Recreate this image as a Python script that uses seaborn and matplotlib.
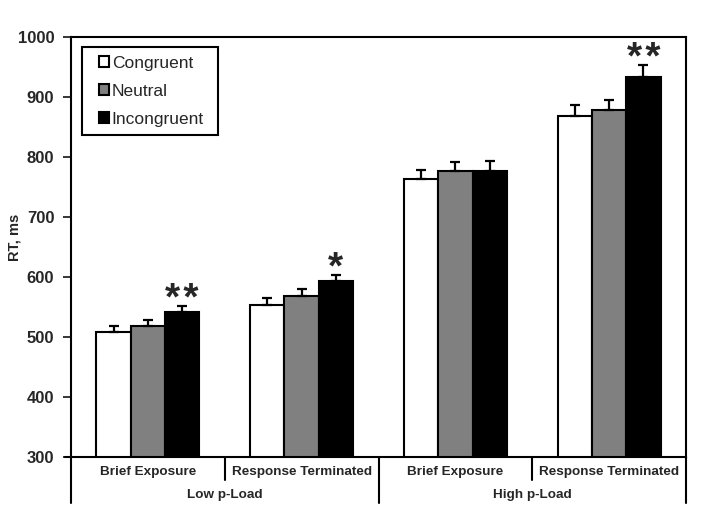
import numpy as np
import pandas as pd
import matplotlib
matplotlib.use("Agg")
import matplotlib.pyplot as plt
import matplotlib.transforms as mtransforms
from matplotlib.patches import Rectangle
import seaborn as sns

# values
categories = ["Brief Exposure", "Response Terminated", "Brief Exposure ", "Response Terminated "]
cat_labels = ["Brief Exposure", "Response Terminated", "Brief Exposure", "Response Terminated"]
groups = ["Low p-Load", "High p-Load"]
conditions = ["Congruent", "Neutral", "Incongruent"]
congruent = [508, 554, 763, 869]
neutral = [518, 568, 776, 878]
incongruent = [541, 593, 777, 934]
err_congruent = [10, 11, 15, 18]
err_neutral = [11, 12, 15, 17]
err_incongruent = [11, 11, 16, 19]
stars = {(2, 0): "*\u200a*", (2, 1): "*", (2, 3): "*\u200a*"}  # (condition index, category index)

colors = ["white", "#808080", "black"]

sns.set_style("white")
plt.rcParams["font.family"] = ["Liberation Sans", "DejaVu Sans"]

df = pd.DataFrame({
    "category": categories * 3,
    "condition": np.repeat(conditions, 4),
    "rt": congruent + neutral + incongruent,
})
errs = [err_congruent, err_neutral, err_incongruent]

fig = plt.figure(figsize=(7.01, 5.17), dpi=100)
ax = fig.add_axes([71 / 701, 60 / 517, 615 / 701, 420 / 517])

sns.barplot(data=df, x="category", y="rt", hue="condition", order=categories,
            hue_order=conditions, palette=colors, edgecolor="black", linewidth=1.5,
            width=0.67, errorbar=None, legend=True, ax=ax)

bar_containers = list(ax.containers)
for ci, cont in enumerate(bar_containers):
    xs = [p.get_x() + p.get_width() / 2 for p in cont.patches]
    ys = [p.get_height() for p in cont.patches]
    e = errs[ci]
    ax.errorbar(xs, ys, yerr=[np.zeros(len(e)), e], fmt="none", ecolor="black",
                elinewidth=1.6, capsize=3.5, capthick=1.6, zorder=1)
    for k in range(len(xs)):
        if (ci, k) in stars:
            ax.text(xs[k], ys[k] + e[k] - 7, stars[(ci, k)], ha="center", va="baseline",
                    fontsize=28, fontweight="bold")

ax.set_ylim(300, 1000)
ax.set_xlim(-0.5, 3.5)
ax.set_yticks(range(300, 1001, 100))
ax.tick_params(axis="y", direction="out", length=6, width=1.3, labelsize=12, left=True, pad=6)
for t in ax.get_yticklabels():
    t.set_fontweight("bold")
ax.set_xticks([])
ax.set_xlabel("")
ax.set_ylabel("RT, ms", fontsize=10.5, fontweight="bold")
ax.yaxis.set_label_coords(-0.08, 0.524)
for s in ax.spines.values():
    s.set_color("black")
    s.set_linewidth(1.5)

# category table below the axis
tr = mtransforms.blended_transform_factory(ax.transData, ax.transAxes)
for xpos, depth in [(-0.5, -0.11), (0.5, -0.055), (1.5, -0.11), (2.5, -0.055), (3.5, -0.11)]:
    ax.plot([xpos, xpos], [0, depth], color="black", lw=1.5, transform=tr, clip_on=False)
ax.plot([-0.54, -0.5], [0, 0], color="black", lw=1.5, transform=tr, clip_on=False)
for i, lab in enumerate(cat_labels):
    ax.text(i, -0.036, lab, transform=tr, ha="center", va="center",
            fontsize=9.7, fontweight="bold")
for g, lab in enumerate(groups):
    ax.text(0.5 + 2 * g, -0.09, lab, transform=tr, ha="center", va="center",
            fontsize=9.7, fontweight="bold")

leg = ax.legend(loc="upper left", bbox_to_anchor=(0.0455, 0.955), frameon=False,
                fontsize=12.5, handlelength=0.58, handleheight=0.58,
                handletextpad=0.15, labelspacing=0.75, borderpad=0,
                borderaxespad=0, title=None)
for h in leg.legend_handles:
    h.set_edgecolor("black")
    h.set_linewidth(1.5)
ax.add_patch(Rectangle((0.0179, 0.7667), 0.2211, 0.2093, transform=ax.transAxes,
                       facecolor="none", edgecolor="black", lw=1.5, zorder=5))

fig.savefig("out.png", dpi=100)
